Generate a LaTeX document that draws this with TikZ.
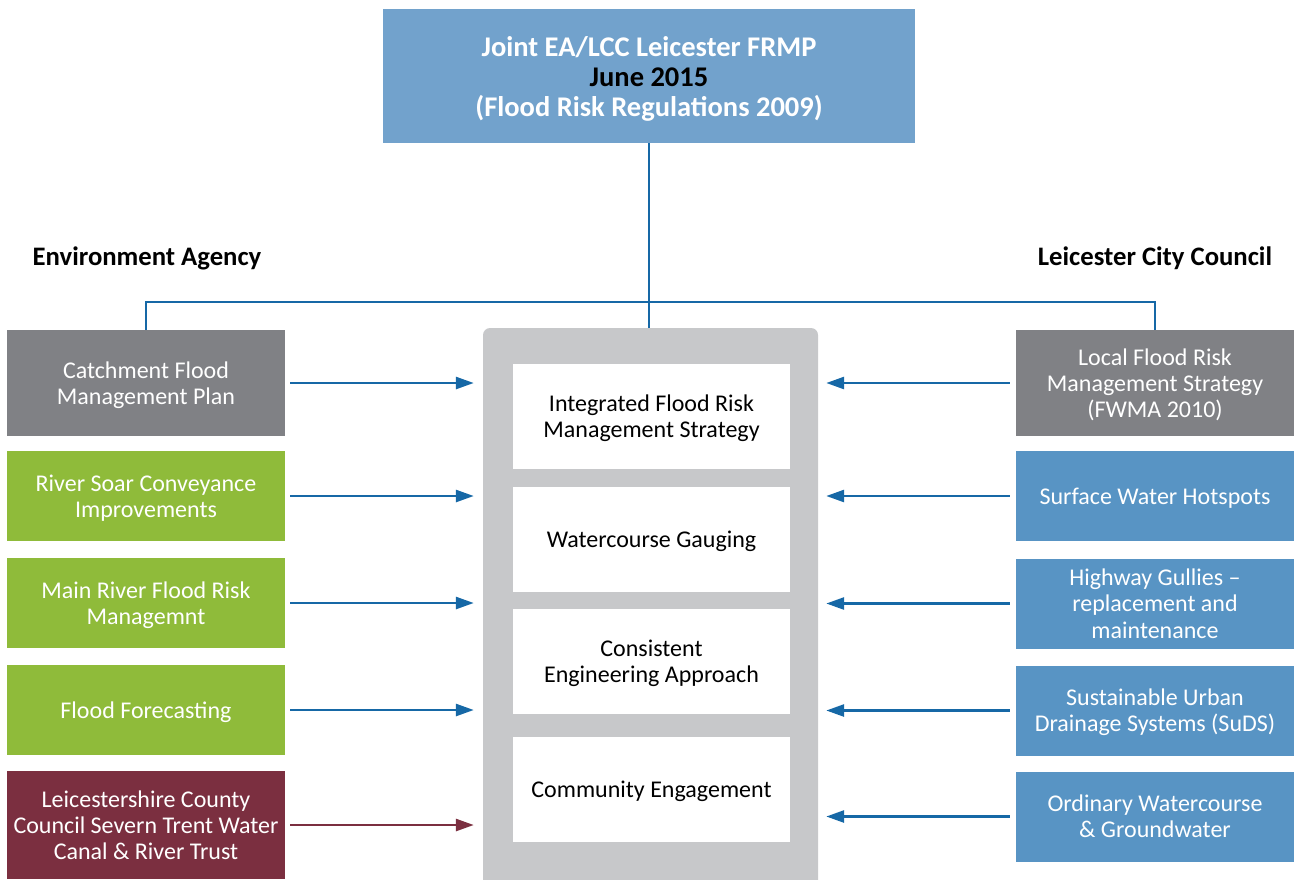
\documentclass[tikz,border=0pt]{standalone}
\usepackage{fontspec}
\setmainfont{Carlito}
\usetikzlibrary{arrows.meta}

\definecolor{titleblue}{RGB}{114,162,204}
\definecolor{planegray}{RGB}{128,129,133}
\definecolor{leafgreen}{RGB}{143,187,58}
\definecolor{wine}{RGB}{123,47,64}
\definecolor{cityblue}{RGB}{88,148,196}
\definecolor{coregray}{RGB}{199,200,202}
\definecolor{linkblue}{RGB}{22,104,166}

\begin{document}
\begin{tikzpicture}[x=1pt,y=-1pt,
  box/.style={rectangle, inner sep=0pt, minimum width=278pt, minimum height=90pt,
    text=white, align=center, text depth=0pt, font=\fontsize{24}{26.3}\selectfont},
  graybox/.style={box, fill=planegray, minimum height=106pt},
  greenbox/.style={box, fill=leafgreen},
  bluebox/.style={box, fill=cityblue},
  winebox/.style={box, fill=wine, minimum height=108pt},
  innerbox/.style={rectangle, inner sep=0pt, fill=white, minimum width=277pt,
    minimum height=105pt, align=center, text depth=0pt, font=\fontsize{24}{26.3}\selectfont},
  lbl/.style={inner sep=0pt, font=\fontsize{26.7}{30}\selectfont\bfseries},
  tree/.style={draw=linkblue, line width=2.5pt},
  arr/.style={draw=linkblue, line width=2.7pt, -{Triangle[length=18pt,width=12pt]}},
  arrl/.style={arr, shorten <=5pt, shorten >=9pt},
  arrr/.style={arr, shorten <=6pt, shorten >=8pt},
]
\useasboundingbox (0,0) rectangle (1296,879);

% central column, open at the bottom edge
\begin{scope}
  \clip (0,0) rectangle (1296,879);
  \node[rectangle, fill=coregray, rounded corners=7pt, inner sep=0pt,
        minimum width=335pt, minimum height=572pt] (corebox) at (650.5,614) {};
\end{scope}

% heading box
\node[rectangle, fill=titleblue, inner sep=0pt, minimum width=532pt, minimum height=134pt,
      align=center, text depth=0pt, font=\fontsize{28.5}{30}\selectfont\bfseries] (title) at (649,76)
  {\textcolor{white}{Joint EA/LCC Leicester FRMP}\\ June 2015\\
   \textcolor{white}{(Flood Risk Regulations 2009)}};

% column headings
\node[lbl] (ea)  at (147,258)  {Environment Agency};
\node[lbl] (lcc) at (1155,258) {Leicester City Council};

% shared activities
\node[innerbox] (ifrms) at (651.5,416.5) {Integrated Flood Risk\\ Management Strategy};
\node[innerbox] (gaug)  at (651.5,539.5) {Watercourse Gauging};
\node[innerbox] (eng)   at (651.5,661.5) {Consistent\\ Engineering Approach};
\node[innerbox] (comm)  at (651.5,789.5) {Community Engagement};

% Environment Agency side
\node[graybox]  (cfmp)  at (146,383) {Catchment Flood\\ Management Plan};
\node[greenbox] (soar)  at (146,496) {River Soar Conveyance\\ Improvements};
\node[greenbox] (mrfr)  at (146,603) {Main River Flood Risk\\ Managemnt};
\node[greenbox] (fcst)  at (146,710) {Flood Forecasting};
\node[winebox]  (parts) at (146,825) {Leicestershire County\\ Council Severn Trent Water\\ Canal \& River Trust};

% City Council side
\node[graybox] (lfrms) at (1155,383)   {Local Flood Risk\\ Management Strategy\\ (FWMA 2010)};
\node[bluebox] (swh)   at (1155,496)   {Surface Water Hotspots};
\node[bluebox] (hgul)  at (1155,603.5) {Highway Gullies --\\ replacement and\\ maintenance};
\node[bluebox] (suds)  at (1155,710.5) {Sustainable Urban\\ Drainage Systems (SuDS)};
\node[bluebox] (owc)   at (1155,816.5) {Ordinary Watercourse\\ \& Groundwater};

% hierarchy lines
\draw[tree] (title.south) -- (title.south |- corebox.north);
\draw[tree] (cfmp.north) -- ++(0,-28) -| (lfrms.north);

% contributions into the shared column
\draw[arrl] (cfmp.east) -- (cfmp.east -| corebox.west);
\draw[arrl] (soar.east) -- (soar.east -| corebox.west);
\draw[arrl] (mrfr.east) -- (mrfr.east -| corebox.west);
\draw[arrl] (fcst.east) -- (fcst.east -| corebox.west);
\draw[arrl, draw=wine] (parts.east) -- (parts.east -| corebox.west);

\draw[arrr] (lfrms.west) -- (lfrms.west -| corebox.east);
\draw[arrr] (swh.west)   -- (swh.west -| corebox.east);
\draw[arrr] (hgul.west)  -- (hgul.west -| corebox.east);
\draw[arrr] (suds.west)  -- (suds.west -| corebox.east);
\draw[arrr] (owc.west)   -- (owc.west -| corebox.east);
\end{tikzpicture}
\end{document}
